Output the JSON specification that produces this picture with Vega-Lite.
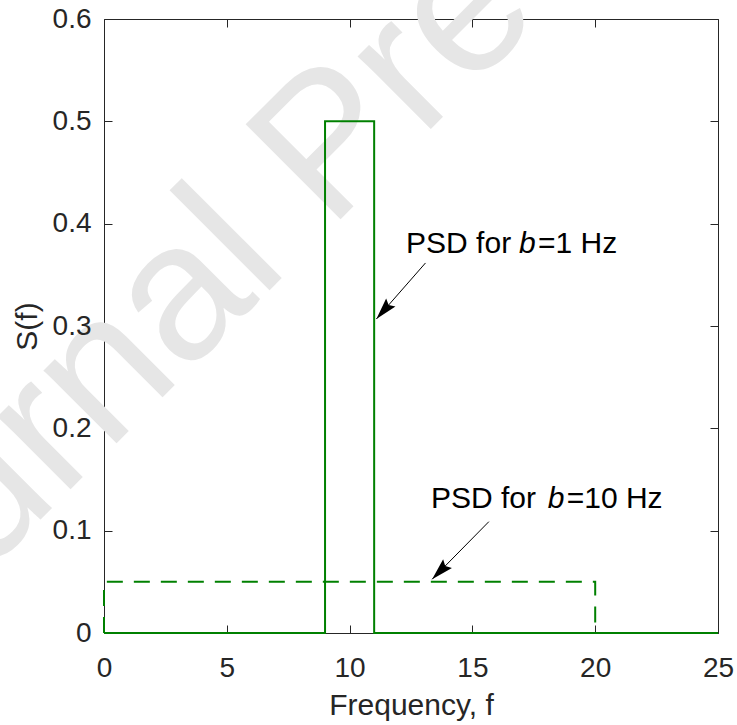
{
  "$schema": "https://vega.github.io/schema/vega-lite/v6.json",
  "width": 614,
  "height": 614,
  "autosize": {"type": "none"},
  "padding": {"left": 104, "top": 19, "right": 19, "bottom": 92},
  "background": "white",
  "config": {
    "view": {"stroke": null},
    "font": "Liberation Sans",
    "axis": {
      "domainColor": "#262626",
      "tickColor": "#262626",
      "labelColor": "#262626",
      "titleColor": "#262626",
      "labelFont": "Liberation Sans",
      "titleFont": "Liberation Sans",
      "labelFontSize": 28,
      "titleFontSize": 30,
      "titleFontWeight": "normal",
      "grid": false,
      "tickSize": -8,
      "domainWidth": 1,
      "tickWidth": 1,
      "labelFlush": false,
      "labelOverlap": false
    }
  },
  "datasets": {
    "watermark": [{"x": -10.8, "y": -0.086, "text": "Journal Pre-proof"}],
    "psd": [
      {"series": "b10", "i": 0, "f": 0, "S": 0},
      {"series": "b10", "i": 1, "f": 0, "S": 0.05},
      {"series": "b10", "i": 2, "f": 20, "S": 0.05},
      {"series": "b10", "i": 3, "f": 20, "S": 0},
      {"series": "b10", "i": 4, "f": 25, "S": 0},
      {"series": "b1", "i": 0, "f": 0, "S": 0},
      {"series": "b1", "i": 1, "f": 9, "S": 0},
      {"series": "b1", "i": 2, "f": 9, "S": 0.5},
      {"series": "b1", "i": 3, "f": 11, "S": 0.5},
      {"series": "b1", "i": 4, "f": 11, "S": 0},
      {"series": "b1", "i": 5, "f": 25, "S": 0}
    ],
    "arrows": [
      {"id": 1, "x": 13.09, "y": 0.3616, "x2": 11.09, "y2": 0.3068},
      {"id": 2, "x": 15.67, "y": 0.1088, "x2": 13.36, "y2": 0.0525}
    ],
    "labels": [
      {"x": 12.3, "y": 0.3711, "text": "PSD for", "style": "normal"},
      {"x": 16.9, "y": 0.3711, "text": "b", "style": "italic"},
      {"x": 17.67, "y": 0.3711, "text": "=1 Hz", "style": "normal"},
      {"x": 13.31, "y": 0.1219, "text": "PSD for", "style": "normal"},
      {"x": 18.07, "y": 0.1219, "text": "b", "style": "italic"},
      {"x": 18.84, "y": 0.1219, "text": "=10 Hz", "style": "normal"}
    ]
  },
  "layer": [
    {
      "data": {"name": "watermark"},
      "mark": {"type": "text", "angle": 315, "fontSize": 195, "color": "#e6e6e6", "align": "left", "baseline": "alphabetic", "clip": false, "font": "Liberation Sans"},
      "encoding": {
        "x": {"field": "x", "type": "quantitative", "scale": {"domain": [0, 25], "nice": false, "zero": false}, "axis": null},
        "y": {"field": "y", "type": "quantitative", "scale": {"domain": [0, 0.6], "nice": false, "zero": false}, "axis": null},
        "text": {"field": "text"}
      }
    },
    {
      "data": {"name": "psd"},
      "mark": {"type": "line", "strokeWidth": 2, "color": "#008000", "clip": false},
      "encoding": {
        "x": {"field": "f", "type": "quantitative", "scale": {"domain": [0, 25], "nice": false, "zero": false},
              "axis": {"orient": "bottom", "values": [0, 5, 10, 15, 20, 25], "format": "d", "title": "Frequency, f", "domain": false, "ticks": false, "tickSize": 0, "labelPadding": 21, "titlePadding": 8, "zindex": 1}},
        "y": {"field": "S", "type": "quantitative", "scale": {"domain": [0, 0.6], "nice": false, "zero": false},
              "axis": {"orient": "left", "values": [0, 0.1, 0.2, 0.3, 0.4, 0.5, 0.6], "format": "~g", "title": "S(f)", "domain": false, "ticks": false, "tickSize": 0, "labelPadding": 13, "titlePadding": 10, "zindex": 1}},
        "strokeDash": {"field": "series", "type": "nominal", "scale": {"domain": ["b10", "b1"], "range": [[16, 11], [1, 0]]}, "legend": null},
        "order": {"field": "i", "type": "quantitative"}
      }
    },
    {
      "data": {"name": "arrows"},
      "mark": {"type": "rule", "color": "black", "strokeWidth": 1},
      "encoding": {
        "x": {"field": "x", "type": "quantitative", "scale": {"domain": [0, 25], "nice": false, "zero": false},
              "axis": {"orient": "top", "values": [0, 5, 10, 15, 20, 25], "labels": false, "title": null, "zindex": 0}},
        "y": {"field": "y", "type": "quantitative", "scale": {"domain": [0, 0.6], "nice": false, "zero": false},
              "axis": {"orient": "right", "values": [0, 0.1, 0.2, 0.3, 0.4, 0.5, 0.6], "labels": false, "title": null, "zindex": 0}},
        "x2": {"field": "x2"},
        "y2": {"field": "y2"}
      }
    },
    {
      "data": {"name": "arrows"},
      "transform": [{"filter": "datum.id == 1"}],
      "mark": {"type": "point", "shape": "M0,0L-0.28,1L0,0.85L0.28,1Z", "filled": true, "color": "black", "opacity": 1, "size": 1936, "angle": 221, "strokeWidth": 0},
      "encoding": {
        "x": {"field": "x2", "type": "quantitative", "scale": {"domain": [0, 25], "nice": false, "zero": false},
              "axis": {"orient": "bottom", "values": [0, 5, 10, 15, 20, 25], "labels": false, "title": null, "zindex": 0}},
        "y": {"field": "y2", "type": "quantitative", "scale": {"domain": [0, 0.6], "nice": false, "zero": false},
              "axis": {"orient": "left", "values": [0, 0.1, 0.2, 0.3, 0.4, 0.5, 0.6], "labels": false, "title": null, "zindex": 0}}
      }
    },
    {
      "data": {"name": "arrows"},
      "transform": [{"filter": "datum.id == 2"}],
      "mark": {"type": "point", "shape": "M0,0L-0.28,1L0,0.85L0.28,1Z", "filled": true, "color": "black", "opacity": 1, "size": 1936, "angle": 224.5, "strokeWidth": 0},
      "encoding": {
        "x": {"field": "x2", "type": "quantitative", "scale": {"domain": [0, 25], "nice": false, "zero": false}, "axis": null},
        "y": {"field": "y2", "type": "quantitative", "scale": {"domain": [0, 0.6], "nice": false, "zero": false}, "axis": null}
      }
    },
    {
      "data": {"name": "labels"},
      "transform": [{"filter": "datum.style == 'normal'"}],
      "mark": {"type": "text", "fontSize": 30, "color": "black", "align": "left", "baseline": "alphabetic", "font": "Liberation Sans"},
      "encoding": {
        "x": {"field": "x", "type": "quantitative", "scale": {"domain": [0, 25], "nice": false, "zero": false}, "axis": null},
        "y": {"field": "y", "type": "quantitative", "scale": {"domain": [0, 0.6], "nice": false, "zero": false}, "axis": null},
        "text": {"field": "text"}
      }
    },
    {
      "data": {"name": "labels"},
      "transform": [{"filter": "datum.style == 'italic'"}],
      "mark": {"type": "text", "fontSize": 30, "fontStyle": "italic", "color": "black", "align": "left", "baseline": "alphabetic", "font": "Liberation Sans"},
      "encoding": {
        "x": {"field": "x", "type": "quantitative", "scale": {"domain": [0, 25], "nice": false, "zero": false}, "axis": null},
        "y": {"field": "y", "type": "quantitative", "scale": {"domain": [0, 0.6], "nice": false, "zero": false}, "axis": null},
        "text": {"field": "text"}
      }
    }
  ],
  "resolve": {"axis": {"x": "independent", "y": "independent"}}
}
